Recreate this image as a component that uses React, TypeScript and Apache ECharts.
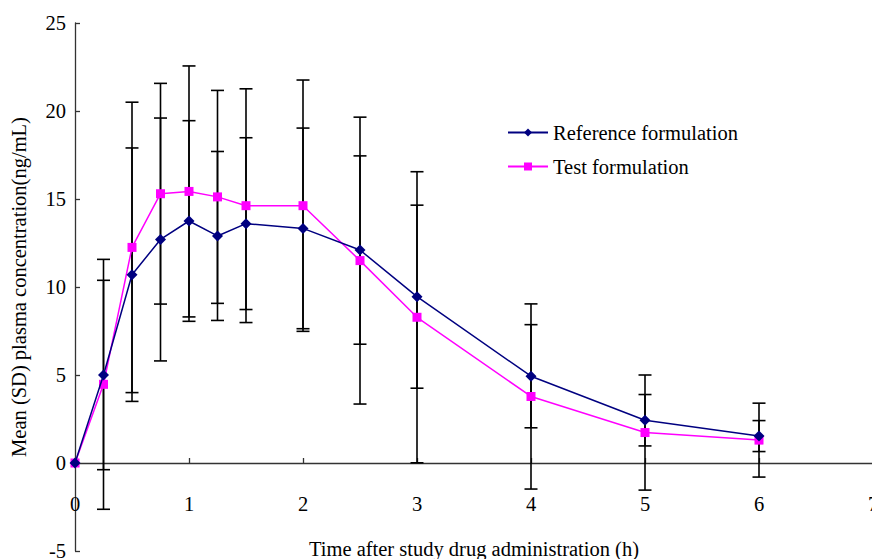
import React, { useEffect, useRef } from "react";
import * as echarts from "echarts";

const times = [0, 0.25, 0.5, 0.75, 1, 1.25, 1.5, 2, 2.5, 3, 4, 5, 6];
const refMean = [0, 5.0, 10.7, 12.7, 13.75, 12.9, 13.6, 13.33, 12.1, 9.45, 4.93, 2.43, 1.53];
const refSD = [0, 5.38, 7.2, 6.9, 5.7, 4.8, 4.88, 5.7, 5.35, 5.2, 2.93, 1.46, 0.88];
const testMean = [0, 4.47, 12.25, 15.3, 15.43, 15.12, 14.62, 14.62, 11.5, 8.28, 3.78, 1.73, 1.3];
const testSD = [0, 7.1, 8.25, 6.27, 7.13, 6.05, 6.64, 7.14, 8.15, 8.27, 5.26, 3.27, 2.1];

const xTicks = [0, 1, 2, 3, 4, 5, 6, 7];
const yTicks = [-5, 0, 5, 10, 15, 20, 25];

const refName = "Reference formulation";
const testName = "Test formulation";

const FONT = "Liberation Serif";
const FS = 20.5;

function errData(means: number[], sds: number[]) {
  return times
    .map((t, i) => [t, means[i] - sds[i], means[i] + sds[i]])
    .filter((d, i) => sds[i] > 0);
}

function renderErr(params: any, api: any) {
  const x = api.value(0);
  const lo = api.coord([x, api.value(1)]);
  const hi = api.coord([x, api.value(2)]);
  const hw = 6.5;
  const style = { stroke: "#000", lineWidth: 1.6 };
  return {
    type: "group",
    children: [
      { type: "line", shape: { x1: lo[0], y1: lo[1], x2: hi[0], y2: hi[1] }, style },
      { type: "line", shape: { x1: hi[0] - hw, y1: hi[1], x2: hi[0] + hw, y2: hi[1] }, style },
      { type: "line", shape: { x1: lo[0] - hw, y1: lo[1], x2: lo[0] + hw, y2: lo[1] }, style },
    ],
  };
}

export default function App() {
  const ref = useRef<HTMLDivElement>(null);
  useEffect(() => {
    if (!ref.current) return;
    const chart = echarts.init(ref.current, undefined, { renderer: "svg" });
    chart.setOption({
      animation: false,
      backgroundColor: "#fff",
      textStyle: { fontFamily: FONT },
      grid: {
        left: 75,
        top: 23,
        width: 798,
        height: 528,
        containLabel: false,
        outerBoundsMode: "none",
      },
      legend: {
        data: [refName, testName],
        orient: "vertical",
        left: 502,
        top: 117,
        itemWidth: 40,
        itemHeight: 10,
        itemGap: 13,
        textStyle: { fontFamily: FONT, fontSize: FS, color: "#000" },
      },
      xAxis: {
        type: "value",
        min: xTicks[0],
        max: xTicks[xTicks.length - 1],
        interval: 1,
        position: "bottom",
        offset: -88,
        name: "Time after study drug administration (h)",
        nameLocation: "middle",
        nameGap: 75,
        nameTextStyle: { fontFamily: FONT, fontSize: FS, color: "#000" },
        axisLine: { onZero: false, lineStyle: { color: "#333", width: 1.3 } },
        axisTick: { inside: true, length: 5, lineStyle: { color: "#333", width: 1.3 } },
        axisLabel: { margin: 30, fontFamily: FONT, fontSize: FS, color: "#000" },
        splitLine: { show: false },
      },
      yAxis: {
        type: "value",
        min: yTicks[0],
        max: yTicks[yTicks.length - 1],
        interval: 5,
        name: "Mean (SD) plasma concentration(ng/mL)",
        nameLocation: "middle",
        nameGap: 46,
        nameTextStyle: { fontFamily: FONT, fontSize: FS, color: "#000" },
        axisLine: { show: true, onZero: false, lineStyle: { color: "#333", width: 1.3 } },
        axisTick: { show: true, inside: true, length: 5, lineStyle: { color: "#333", width: 1.3 } },
        axisLabel: { margin: 9, fontFamily: FONT, fontSize: FS, color: "#000" },
        splitLine: { show: false },
      },
      series: [
        {
          type: "custom",
          name: "refErr",
          renderItem: renderErr,
          data: errData(refMean, refSD),
          z: 1,
          silent: true,
          clip: false,
        },
        {
          type: "custom",
          name: "testErr",
          renderItem: renderErr,
          data: errData(testMean, testSD),
          z: 1,
          silent: true,
          clip: false,
        },
        {
          type: "line",
          name: testName,
          data: times.map((t, i) => [t, testMean[i]]),
          symbol: "rect",
          symbolSize: 9,
          itemStyle: { color: "#FF00FF" },
          lineStyle: { color: "#FF00FF", width: 1.5 },
          z: 3,
        },
        {
          type: "line",
          name: refName,
          data: times.map((t, i) => [t, refMean[i]]),
          symbol: "diamond",
          symbolSize: 11,
          itemStyle: { color: "#000080" },
          lineStyle: { color: "#000080", width: 1.5 },
          z: 4,
        },
      ],
    });
    return () => chart.dispose();
  }, []);
  return (
    <div
      ref={ref}
      style={{ position: "fixed", left: 0, top: 0, width: 872, height: 559, background: "#fff" }}
    />
  );
}
